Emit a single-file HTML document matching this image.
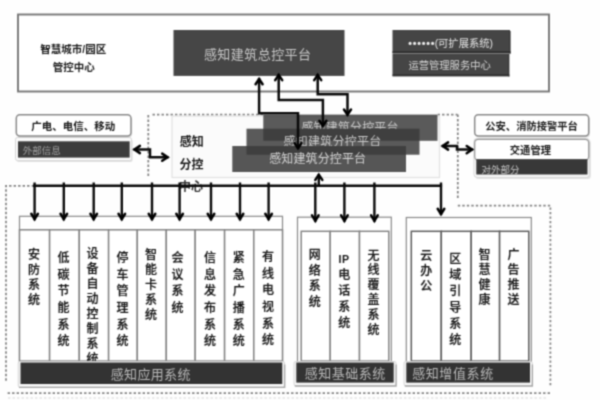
<!DOCTYPE html>
<html lang="zh-CN">
<head>
<meta charset="utf-8">
<title>感知建筑总控平台 架构图</title>
<style>
html,body{margin:0;padding:0;background:#fefefe;}
body{width:600px;height:400px;overflow:hidden;font-family:"Liberation Sans",sans-serif;}
svg{display:block;}
svg text{font-family:"Liberation Sans","Noto Sans CJK SC",sans-serif;}
</style>
</head>
<body>
<svg width="600" height="400" viewBox="0 0 600 400">
<defs>
<filter id="soft" x="0" y="0" width="100%" height="100%" color-interpolation-filters="sRGB"><feConvolveMatrix order="3" kernelMatrix="0.0439 0.1217 0.0439 0.1217 0.3377 0.1217 0.0439 0.1217 0.0439" edgeMode="duplicate" preserveAlpha="true"/></filter>
</defs>
<g filter="url(#soft)">
<rect x="-5" y="-5" width="610" height="410" fill="#fefefe"/>
<path d="M152.5 114.5 L263.5 114.5" fill="none" stroke="#848484" stroke-width="1.75" stroke-dasharray="2.4 2.1"/>
<path d="M437.6 114.5 L457.5 114.5" fill="none" stroke="#848484" stroke-width="1.75" stroke-dasharray="2.4 2.1"/>
<path d="M148.3 115 L148.3 176" fill="none" stroke="#848484" stroke-width="1.75" stroke-dasharray="2.4 2.1"/>
<path d="M457.8 114.5 L457.8 200" fill="none" stroke="#848484" stroke-width="1.75" stroke-dasharray="2.4 2.1"/>
<path d="M457.8 205.5 L550.4 205.5 L550.4 387" fill="none" stroke="#848484" stroke-width="1.75" stroke-dasharray="2.4 2.1"/>
<path d="M550 393 L6.5 393" fill="none" stroke="#848484" stroke-width="1.75" stroke-dasharray="2.4 2.1"/>
<path d="M8 398 L548 398" fill="none" stroke="#d6d6d6" stroke-width="1.2" stroke-dasharray="2.4 2.1"/>
<path d="M34 185.8 L6 185.8 L6 382" fill="none" stroke="#848484" stroke-width="1.75" stroke-dasharray="2.4 2.1"/>
<rect x="18" y="14.5" width="531" height="77" fill="#fff" stroke="#767676" stroke-width="1.9" />
<text x="40.33" y="52.79" font-size="10.5" font-weight="bold" fill="#1a1a1a">智慧城市/园区</text>
<text x="52.76" y="70.99" font-size="10.5" font-weight="bold" fill="#1a1a1a">管控中心</text>
<rect x="173.5" y="30" width="171" height="45.9" fill="#464646" />
<text x="203.93" y="59.24" font-size="13" letter-spacing="0.45" fill="#c6c6c6">感知建筑总控平台</text>
<rect x="392.5" y="30" width="117.5" height="23" fill="#454545" />
<rect x="392.5" y="53.8" width="116.5" height="22.2" fill="#454545" />
<rect x="392.5" y="51.2" width="118.1" height="2.4" fill="#2c2c2c" fill-opacity="0.85"/>
<rect x="509.2" y="31" width="1.6" height="22.6" fill="#2c2c2c" fill-opacity="0.7"/>
<rect x="392.5" y="74.4" width="116.9" height="2.1" fill="#2c2c2c" fill-opacity="0.8"/>
<rect x="508" y="54" width="1.6" height="22.5" fill="#2c2c2c" fill-opacity="0.6"/>
<circle cx="410.1" cy="43.4" r="1.55" fill="#ececec"/>
<circle cx="414.6" cy="43.4" r="1.55" fill="#ececec"/>
<circle cx="419.1" cy="43.4" r="1.55" fill="#ececec"/>
<circle cx="423.6" cy="43.4" r="1.55" fill="#ececec"/>
<circle cx="428.1" cy="43.4" r="1.55" fill="#ececec"/>
<circle cx="432.6" cy="43.4" r="1.55" fill="#ececec"/>
<text x="434.65" y="47.11" font-size="10.3" fill="#e4e4e4">(可扩展系统)</text>
<text x="408.42" y="69.41" font-size="10.3" fill="#d6d6d6">运营管理服务中心</text>
<rect x="16.8" y="139.2" width="115.8" height="22.8" rx="2" fill="#cfcfcf" fill-opacity="0.6"/>
<rect x="15.5" y="137.5" width="116" height="23.1" rx="2" fill="#fafafa" stroke="#d6d6d6" stroke-width="1" />
<rect x="17.5" y="116.2" width="114.7" height="21.2" rx="3.5" fill="#d0d0d0" fill-opacity="0.6"/>
<rect x="16.3" y="114.7" width="114.7" height="21.3" rx="3.5" fill="#fff" stroke="#8a8a8a" stroke-width="1.5" />
<text x="31.31" y="129.99" font-size="10.5" font-weight="bold" fill="#1a1a1a">广电、电信、移动</text>
<rect x="18" y="141.3" width="111.7" height="16.3" fill="#3c3c3c" />
<text x="22.64" y="154.41" font-size="9.5" fill="#a0a0a0">外部信息</text>
<rect x="475.4" y="140" width="115.4" height="39" rx="3" fill="#cfcfcf" fill-opacity="0.6"/>
<rect x="474" y="138.5" width="115.5" height="38.8" rx="3" fill="#fafafa" stroke="#d6d6d6" stroke-width="1" />
<rect x="475.9" y="116.2" width="114" height="21.2" rx="3.5" fill="#d0d0d0" fill-opacity="0.6"/>
<rect x="474.7" y="114.7" width="114" height="21.3" rx="3.5" fill="#fff" stroke="#8a8a8a" stroke-width="1.5" />
<text x="485.26" y="130.21" font-size="10.3" font-weight="bold" fill="#1a1a1a">公安、消防接警平台</text>
<rect x="474.7" y="139.3" width="114" height="20.7" rx="3.5" fill="#fff" stroke="#9a9a9a" stroke-width="1.3" />
<text x="509.8" y="154.41" font-size="10.3" font-weight="bold" fill="#1a1a1a">交通管理</text>
<rect x="476.3" y="159.2" width="111.2" height="15.3" fill="#383838" />
<text x="481.57" y="172.81" font-size="9.5" fill="#c4c4c4">对外部分</text>
<rect x="172" y="116" width="267.5" height="61.5" fill="#fbfbfb" stroke="#e2e2e2" stroke-width="1.2" />
<text x="179.65" y="146.36" font-size="12" font-weight="bold" fill="#1a1a1a">感知</text>
<text x="179.62" y="169.36" font-size="12" font-weight="bold" fill="#1a1a1a">分控</text>
<text x="178.94" y="191.26" font-size="12" font-weight="bold" fill="#333">中心</text>
<defs><clipPath id="cb"><rect x="263" y="114" width="175" height="15"/></clipPath><clipPath id="cm"><rect x="246" y="128" width="175" height="18.3"/></clipPath></defs>
<rect x="263.3" y="114.6" width="174.2" height="26.2" fill="#3a3a3a" fill-opacity="0.84"/>
<text x="301.47" y="132.16" font-size="12" letter-spacing="0.15" fill="#c9c9c9" clip-path="url(#cb)">感知建筑分控平台</text>
<rect x="246.5" y="128.7" width="173" height="26" fill="#3a3a3a" fill-opacity="0.84"/>
<text x="283.47" y="146.26" font-size="12" letter-spacing="0.25" fill="#c9c9c9" clip-path="url(#cm)">感知建筑分控平台</text>
<rect x="232.3" y="146" width="173.7" height="26" fill="#3a3a3a" fill-opacity="0.86"/>
<text x="269.17" y="163.36" font-size="12" letter-spacing="0.12" fill="#d2d2d2">感知建筑分控平台</text>
<path d="M259.1 78 L259.1 113.3 L298 113.3 L298 149" fill="none" stroke="#0a0a0a" stroke-width="2.5" />
<path d="M255.6 84.29 L259.1 79.09 L262.6 84.29" fill="none" stroke="#000" stroke-width="2.5" stroke-linejoin="miter" stroke-linecap="round"/>
<path d="M294.5 143.11 L298 148.31 L301.5 143.11" fill="none" stroke="#000" stroke-width="2.5" stroke-linejoin="miter" stroke-linecap="round"/>
<path d="M278.7 74 L278.7 100 L322.9 100 L322.9 126.5" fill="none" stroke="#0a0a0a" stroke-width="2.5" />
<path d="M275.2 80.09 L278.7 74.89 L282.2 80.09" fill="none" stroke="#000" stroke-width="2.5" stroke-linejoin="miter" stroke-linecap="round"/>
<path d="M319.4 120.71 L322.9 125.91 L326.4 120.71" fill="none" stroke="#000" stroke-width="2.5" stroke-linejoin="miter" stroke-linecap="round"/>
<path d="M317.7 74 L317.7 94.3 L347.5 94.3 L347.5 115.5" fill="none" stroke="#0a0a0a" stroke-width="2.5" />
<path d="M314.2 80.09 L317.7 74.89 L321.2 80.09" fill="none" stroke="#000" stroke-width="2.5" stroke-linejoin="miter" stroke-linecap="round"/>
<path d="M344 109.51 L347.5 114.71 L351 109.51" fill="none" stroke="#000" stroke-width="2.5" stroke-linejoin="miter" stroke-linecap="round"/>
<path d="M133.5 149.5 L150 149.5 L150 157.2 L168.5 157.2" fill="none" stroke="#0a0a0a" stroke-width="2.5" />
<path d="M139.9 145.9 L134.5 149.5 L139.9 153.1" fill="none" stroke="#000" stroke-width="2.5" stroke-linejoin="miter" stroke-linecap="round"/>
<path d="M162.2 153.6 L167.6 157.2 L162.2 160.8" fill="none" stroke="#000" stroke-width="2.5" stroke-linejoin="miter" stroke-linecap="round"/>
<path d="M441.8 146 L457 146 L457 149.6 L473 149.6" fill="none" stroke="#0a0a0a" stroke-width="2.5" />
<path d="M448.1 142.4 L442.7 146 L448.1 149.6" fill="none" stroke="#000" stroke-width="2.5" stroke-linejoin="miter" stroke-linecap="round"/>
<path d="M466.7 146 L472.1 149.6 L466.7 153.2" fill="none" stroke="#000" stroke-width="2.5" stroke-linejoin="miter" stroke-linecap="round"/>
<path d="M33 185.7 L442.1 185.7" fill="none" stroke="#0a0a0a" stroke-width="2.4" />
<rect x="19.5" y="216.3" width="263" height="145.7" fill="#fff" stroke="#8a8a8a" stroke-width="1.2" />
<rect x="297.5" y="217.2" width="93.8" height="144.8" fill="#fff" stroke="#8a8a8a" stroke-width="1.2" />
<rect x="406.3" y="217.5" width="125" height="144.5" fill="#fff" stroke="#8a8a8a" stroke-width="1.2" />
<defs><clipPath id="cc"><rect x="0" y="225" width="600" height="137.3"/></clipPath></defs>
<rect x="19.5" y="229.8" width="30.1" height="131.2" fill="#fff" stroke="#828282" stroke-width="1.45" />
<rect x="49.6" y="229.8" width="29.7" height="131.2" fill="#fff" stroke="#828282" stroke-width="1.45" />
<rect x="79.3" y="229.8" width="29.3" height="131.2" fill="#fff" stroke="#828282" stroke-width="1.45" />
<rect x="108.6" y="229.8" width="28.7" height="131.2" fill="#fff" stroke="#828282" stroke-width="1.45" />
<rect x="137.3" y="229.8" width="29" height="131.2" fill="#fff" stroke="#828282" stroke-width="1.45" />
<rect x="166.3" y="229.8" width="28.9" height="131.2" fill="#fff" stroke="#828282" stroke-width="1.45" />
<rect x="195.2" y="229.8" width="29.4" height="131.2" fill="#fff" stroke="#828282" stroke-width="1.45" />
<rect x="224.6" y="229.8" width="29.2" height="131.2" fill="#fff" stroke="#828282" stroke-width="1.45" />
<rect x="253.8" y="229.8" width="28.7" height="131.2" fill="#fff" stroke="#828282" stroke-width="1.45" />
<text font-size="12" font-weight="500" fill="#141414" stroke="#141414" stroke-width="0.2" clip-path="url(#cc)" x="27.9 27.9 27.9 27.9" y="259.16 274.16 289.16 304.16">安防系统</text>
<text font-size="12" font-weight="500" fill="#141414" stroke="#141414" stroke-width="0.2" clip-path="url(#cc)" x="57.5 57.5 57.5 57.5 57.5 57.5" y="262.06 278.71 295.36 312.01 328.66 345.31">低碳节能系统</text>
<text font-size="12" font-weight="500" fill="#141414" stroke="#141414" stroke-width="0.2" clip-path="url(#cc)" x="86.6 86.6 86.6 86.6 86.6 86.6 86.6 86.6" y="257.86 272.86 287.86 302.86 317.86 332.86 347.86 362.86">设备自动控制系统</text>
<text font-size="12" font-weight="500" fill="#141414" stroke="#141414" stroke-width="0.2" clip-path="url(#cc)" x="116.5 116.5 116.5 116.5 116.5 116.5" y="262.06 278.71 295.36 312.01 328.66 345.31">停车管理系统</text>
<text font-size="12" font-weight="500" fill="#141414" stroke="#141414" stroke-width="0.2" clip-path="url(#cc)" x="145 145 145 145 145" y="259.06 274.06 289.06 304.06 319.06">智能卡系统</text>
<text font-size="12" font-weight="500" fill="#141414" stroke="#141414" stroke-width="0.2" clip-path="url(#cc)" x="171.6 171.6 171.6 171.6" y="262.36 278.86 295.36 311.86">会议系统</text>
<text font-size="12" font-weight="500" fill="#141414" stroke="#141414" stroke-width="0.2" clip-path="url(#cc)" x="204 204 204 204 204 204" y="262.36 278.91 295.46 312.01 328.56 345.11">信息发布系统</text>
<text font-size="12" font-weight="500" fill="#141414" stroke="#141414" stroke-width="0.2" clip-path="url(#cc)" x="232.8 232.8 232.8 232.8 232.8 232.8" y="262.36 278.91 295.46 312.01 328.56 345.11">紧急广播系统</text>
<text font-size="12" font-weight="500" fill="#141414" stroke="#141414" stroke-width="0.2" clip-path="url(#cc)" x="262 262 262 262 262 262" y="260.96 277.61 294.26 310.91 327.56 344.21">有线电视系统</text>
<rect x="301.2" y="231.3" width="29" height="129.7" fill="#fff" stroke="#828282" stroke-width="1.45" />
<rect x="330.2" y="231.3" width="29.3" height="129.7" fill="#fff" stroke="#828282" stroke-width="1.45" />
<rect x="359.5" y="231.3" width="29.3" height="129.7" fill="#fff" stroke="#828282" stroke-width="1.45" />
<text font-size="12" font-weight="500" fill="#141414" stroke="#141414" stroke-width="0.2" clip-path="url(#cc)" x="308.8 308.8 308.8 308.8" y="258.76 274.61 290.46 306.31">网络系统</text>
<text font-size="12" font-weight="500" fill="#141414" stroke="#141414" stroke-width="0.2" clip-path="url(#cc)" x="338.2 338.2 338.2 338.2" y="278.56 294.81 311.06 327.31">电话系统</text>
<text font-size="12" font-weight="500" fill="#141414" stroke="#141414" stroke-width="0.2" clip-path="url(#cc)" x="367.5 367.5 367.5 367.5 367.5 367.5" y="259.56 274.36 289.16 303.96 318.76 333.56">无线覆盖系统</text>
<text x="338.56" y="262.93" font-size="10.6" font-weight="bold" letter-spacing="0.5" fill="#141414">IP</text>
<rect x="411.3" y="231.3" width="30" height="129.7" fill="#fff" stroke="#5c5c5c" stroke-width="1.5" />
<rect x="441.3" y="231.3" width="29.9" height="129.7" fill="#fff" stroke="#5c5c5c" stroke-width="1.5" />
<rect x="471.2" y="231.3" width="28.4" height="129.7" fill="#fff" stroke="#5c5c5c" stroke-width="1.5" />
<rect x="499.6" y="231.3" width="29.2" height="129.7" fill="#fff" stroke="#5c5c5c" stroke-width="1.5" />
<text font-size="12" font-weight="500" fill="#141414" stroke="#141414" stroke-width="0.2" clip-path="url(#cc)" x="420.3 420.3 420.3" y="259.56 274.86 290.16">云办公</text>
<text font-size="12" font-weight="500" fill="#141414" stroke="#141414" stroke-width="0.2" clip-path="url(#cc)" x="449.3 449.3 449.3 449.3 449.3 449.3" y="262.76 279.06 295.36 311.66 327.96 344.26">区域引导系统</text>
<text font-size="12" font-weight="500" fill="#141414" stroke="#141414" stroke-width="0.2" clip-path="url(#cc)" x="478.6 478.6 478.6 478.6" y="259.06 274.06 289.06 304.06">智慧健康</text>
<text font-size="12" font-weight="500" fill="#141414" stroke="#141414" stroke-width="0.2" clip-path="url(#cc)" x="507.5 507.5 507.5 507.5" y="259.06 274.06 289.06 304.06">广告推送</text>
<rect x="18.3" y="361.5" width="266.2" height="25.7" rx="1.5" fill="#f8f8f8" stroke="#d4d4d4" stroke-width="1" />
<path d="M19 387.4 L284.7 387.4 L284.7 364.5" fill="none" stroke="#a6a6a6" stroke-width="1.3" />
<rect x="20.5" y="362.5" width="261.8" height="21.5" fill="#333" />
<text x="110.73" y="379.14" font-size="13" letter-spacing="0.35" fill="#b8b8b8">感知应用系统</text>
<rect x="294.1" y="361.5" width="101.8" height="24.3" rx="1.5" fill="#f8f8f8" stroke="#d4d4d4" stroke-width="1" />
<path d="M294.8 386 L396.1 386 L396.1 364.5" fill="none" stroke="#a6a6a6" stroke-width="1.3" />
<rect x="296.3" y="362.5" width="97.4" height="20.1" fill="#333" />
<text x="304.63" y="377.94" font-size="13" letter-spacing="0.5" fill="#b8b8b8">感知基础系统</text>
<rect x="404.1" y="361.5" width="128.1" height="24.3" rx="1.5" fill="#f8f8f8" stroke="#d4d4d4" stroke-width="1" />
<path d="M404.8 386 L532.4 386 L532.4 364.5" fill="none" stroke="#a6a6a6" stroke-width="1.3" />
<rect x="406.3" y="362.5" width="123.7" height="20.1" fill="#333" />
<text x="412.13" y="377.74" font-size="13" letter-spacing="0.6" fill="#b8b8b8">感知增值系统</text>
<path d="M34.6 182.5 L34.6 220.2" fill="none" stroke="#0a0a0a" stroke-width="2.4" />
<path d="M31.3 213.75 L34.6 219.15 L37.9 213.75" fill="none" stroke="#000" stroke-width="2.5" stroke-linejoin="miter" stroke-linecap="round"/>
<path d="M63.8 182.5 L63.8 220.2" fill="none" stroke="#0a0a0a" stroke-width="2.4" />
<path d="M60.5 213.75 L63.8 219.15 L67.1 213.75" fill="none" stroke="#000" stroke-width="2.5" stroke-linejoin="miter" stroke-linecap="round"/>
<path d="M93.7 182.5 L93.7 220.2" fill="none" stroke="#0a0a0a" stroke-width="2.4" />
<path d="M90.4 213.75 L93.7 219.15 L97 213.75" fill="none" stroke="#000" stroke-width="2.5" stroke-linejoin="miter" stroke-linecap="round"/>
<path d="M121.8 182.5 L121.8 220.2" fill="none" stroke="#0a0a0a" stroke-width="2.4" />
<path d="M118.5 213.75 L121.8 219.15 L125.1 213.75" fill="none" stroke="#000" stroke-width="2.5" stroke-linejoin="miter" stroke-linecap="round"/>
<path d="M152 182.5 L152 220.2" fill="none" stroke="#0a0a0a" stroke-width="2.4" />
<path d="M148.7 213.75 L152 219.15 L155.3 213.75" fill="none" stroke="#000" stroke-width="2.5" stroke-linejoin="miter" stroke-linecap="round"/>
<path d="M179.6 182.5 L179.6 220.2" fill="none" stroke="#0a0a0a" stroke-width="2.4" />
<path d="M176.3 213.75 L179.6 219.15 L182.9 213.75" fill="none" stroke="#000" stroke-width="2.5" stroke-linejoin="miter" stroke-linecap="round"/>
<path d="M211 182.5 L211 220.2" fill="none" stroke="#0a0a0a" stroke-width="2.4" />
<path d="M207.7 213.75 L211 219.15 L214.3 213.75" fill="none" stroke="#000" stroke-width="2.5" stroke-linejoin="miter" stroke-linecap="round"/>
<path d="M240 182.5 L240 220.2" fill="none" stroke="#0a0a0a" stroke-width="2.4" />
<path d="M236.7 213.75 L240 219.15 L243.3 213.75" fill="none" stroke="#000" stroke-width="2.5" stroke-linejoin="miter" stroke-linecap="round"/>
<path d="M268.6 182.5 L268.6 220.2" fill="none" stroke="#0a0a0a" stroke-width="2.4" />
<path d="M265.3 213.75 L268.6 219.15 L271.9 213.75" fill="none" stroke="#000" stroke-width="2.5" stroke-linejoin="miter" stroke-linecap="round"/>
<path d="M315.3 182.5 L315.3 221.8" fill="none" stroke="#0a0a0a" stroke-width="2.4" />
<path d="M312 215.35 L315.3 220.75 L318.6 215.35" fill="none" stroke="#000" stroke-width="2.5" stroke-linejoin="miter" stroke-linecap="round"/>
<path d="M344.4 182.5 L344.4 221.8" fill="none" stroke="#0a0a0a" stroke-width="2.4" />
<path d="M341.1 215.35 L344.4 220.75 L347.7 215.35" fill="none" stroke="#000" stroke-width="2.5" stroke-linejoin="miter" stroke-linecap="round"/>
<path d="M374.4 182.5 L374.4 221.8" fill="none" stroke="#0a0a0a" stroke-width="2.4" />
<path d="M371.1 215.35 L374.4 220.75 L377.7 215.35" fill="none" stroke="#000" stroke-width="2.5" stroke-linejoin="miter" stroke-linecap="round"/>
<path d="M441 182.5 L441 215" fill="none" stroke="#0a0a0a" stroke-width="2.4" />
<path d="M437.7 208.75 L441 214.15 L444.3 208.75" fill="none" stroke="#000" stroke-width="2.5" stroke-linejoin="miter" stroke-linecap="round"/>
<path d="M318.8 185.7 L318.8 174" fill="none" stroke="#0a0a0a" stroke-width="2.4" />
<path d="M315.3 179.89 L318.8 174.69 L322.3 179.89" fill="none" stroke="#000" stroke-width="2.5" stroke-linejoin="miter" stroke-linecap="round"/>
</g>
</svg>
</body>
</html>
